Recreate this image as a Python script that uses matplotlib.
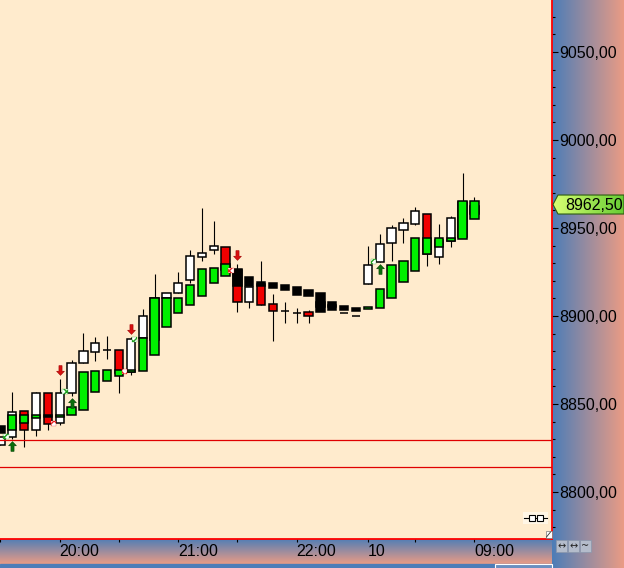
import numpy as np
import matplotlib.pyplot as plt
from matplotlib.path import Path
from matplotlib.patches import Polygon, Rectangle
from matplotlib.ticker import MultipleLocator, FuncFormatter

plt.rcParams['font.family'] = ['Liberation Sans', 'DejaVu Sans']

# price candles (white = up, red = down), one per bar
a_open = [8826.5, 8831, 8846, 8835.5, 8856, 8839, 8856, 8873.5, 8879.5, 8880.5,
          8880.5, 8868, 8887.5, 8886.5, 8910, 8913, 8920.5, 8933.5, 8937.5, 8939,
          8926, 8908, 8918, 8907, 8903, 8901.5, 8902.5, 8905, 8906, 8901.5,
          8900, 8918, 8930.5, 8941.5, 8949, 8952.5, 8958, 8933.5, 8942.5, 8945,
          8958]
a_high = [8831, 8857, 8846, 8857, 8856, 8864, 8875, 8890.5, 8888, 8888.5,
          8880.5, 8888, 8904, 8924, 8913, 8925, 8937.5, 8961.5, 8954, 8939,
          8929.5, 8916.5, 8931, 8912.5, 8908, 8904.5, 8903.5, 8908, 8906, 8901.5,
          8900, 8940, 8946.5, 8951.5, 8955.5, 8962, 8958, 8952.5, 8957, 8981,
          8967.5]
a_low = [8826.5, 8830, 8825.5, 8832, 8835, 8838, 8854.5, 8873.5, 8874.5, 8875.5,
         8856.5, 8866.5, 8887.5, 8886.5, 8910, 8913, 8918.5, 8931, 8935, 8926,
         8902.5, 8904.5, 8906.5, 8886, 8896, 8896, 8896, 8905, 8905, 8901.5,
         8900, 8918, 8930.5, 8931.5, 8941.5, 8951.5, 8928.5, 8929.5, 8939, 8945,
         8958]
a_close = [8831, 8845.5, 8835.5, 8856, 8838.5, 8856.5, 8873.5, 8880, 8884.5, 8880.5,
           8867.5, 8887, 8900, 8910, 8913, 8919, 8934, 8936, 8940, 8926,
           8908, 8916.5, 8906.5, 8903, 8903, 8901.5, 8900, 8908, 8905, 8901.5,
           8900, 8929, 8941, 8950, 8953, 8959.5, 8935, 8943, 8955.5, 8965,
           8962.5]

# overlay bodies (green = up, black = down)
b_open = [8837.5, 8835.5, 8839.5, 8842, 8843.5, 8842.5, 8843.5, 8846.5, 8857, 8863,
          8866, 8868, 8868.5, 8878, 8894, 8902, 8906, 8911.5, 8919, 8923,
          8926.5, 8922, 8919.5, 8918.5, 8917.5, 8916.5, 8915, 8913, 8908, 8905.5,
          8904.5, 8904, 8904.5, 8910, 8919.5, 8925.5, 8935, 8939.5, 8942.5, 8943.5,
          8955]
b_close = [8833.5, 8843.5, 8843.5, 8843.5, 8842.5, 8844, 8848.5, 8868, 8869, 8869.5,
           8869.5, 8869.5, 8887.5, 8910.5, 8910, 8910, 8917.5, 8926.5, 8927.5, 8929.5,
           8917, 8917, 8917, 8916, 8915, 8912, 8911.5, 8902.5, 8903.5, 8903.5,
           8903, 8905, 8915.5, 8929, 8931, 8944.5, 8944.5, 8944.5, 8944.5, 8965.5,
           8965.5]

sell_bars = [5, 11, 20]
sell_prices = [8869.5, 8892.5, 8934.5]
buy_bars = [1, 6, 32]
buy_prices = [8826, 8850.5, 8926.5]
green_mark_x = [0.47, 5.45, 11.33, 31.5]
green_mark_y = [8831.5, 8857, 8886.5, 8931]
red_mark_x = [4.5, 10.45, 19.45]
red_mark_y = [8839, 8868.5, 8926]
levels = [8829.5, 8814]
last_price = 8962.5

tick_bars = [0, 5, 10, 15, 20, 25, 31, 35, 40]
tick_labels = ['', '20:00', '', '21:00', '', '22:00', '10', '', '09:00']

W, H = 624, 568
plot_right, plot_bottom = 552, 538.5
y_top, y_bot = 9079.55, 8773.6

fig = plt.figure(figsize=(W / 100, H / 100), dpi=100)

# gradient panels behind everything
bg = fig.add_axes([0, 0, 1, 1], zorder=0)
blue = np.array([0.30, 0.49, 0.72])
salmon = np.array([0.92, 0.61, 0.52])
t = np.linspace(0, 1, 256)
grad = blue[None, :] * (1 - t[:, None]) + salmon[None, :] * t[:, None]
bg.imshow(grad[None, :, :], extent=(plot_right, W, H, 0), aspect='auto')
bg.imshow(grad[:, None, :], extent=(0, plot_right, 564, plot_bottom), aspect='auto')
bg.add_patch(Rectangle((0, 564), plot_right, 4, color=blue))
bg.set_xlim(0, W)
bg.set_ylim(H, 0)
bg.axis('off')

# main chart
ax = fig.add_axes([0, (H - plot_bottom) / H, plot_right / W, plot_bottom / H], zorder=1)
ax.set_facecolor('#ffebcd')

x = np.arange(len(a_open))
a_o, a_c = np.array(a_open), np.array(a_close)
b_o, b_c = np.array(b_open), np.array(b_close)

ax.vlines(x, a_low, a_high, color='black', lw=0.8, zorder=2)
ax.bar(x, np.abs(a_c - a_o), bottom=np.minimum(a_o, a_c), width=0.7,
       color=np.where(a_c >= a_o, 'white', '#f00000'), edgecolor='black',
       linewidth=1.1, zorder=3)
ax.bar(x, np.abs(b_c - b_o), bottom=np.minimum(b_o, b_c), width=0.7,
       color=np.where(b_c >= b_o, '#00f000', 'black'), edgecolor='black',
       linewidth=1.1, zorder=4)

for lv in levels:
    ax.axhline(lv, color='#e00000', lw=0.9, zorder=5)

up_arrow = Path([(0, 1), (0.8, 0.15), (0.32, 0.15), (0.32, -1), (-0.32, -1),
                 (-0.32, 0.15), (-0.8, 0.15), (0, 1)], closed=True)
down_arrow = Path(np.array(up_arrow.vertices) * [1, -1], closed=True)
ax.plot(sell_bars, sell_prices, ls='none', marker=down_arrow, ms=7,
        color='#d81010', mec='#a00000', mew=0.4, zorder=6)
ax.plot(buy_bars, buy_prices, ls='none', marker=up_arrow, ms=7,
        color='#0b6e0b', mec='#044004', mew=0.4, zorder=6)

ax.scatter(green_mark_x, green_mark_y, marker='s', s=14, facecolor='white',
           edgecolor='#1fa01f', hatch='xxxx', linewidths=0.2, zorder=6)
ax.scatter(red_mark_x, red_mark_y, marker='s', s=14, facecolor='white',
           edgecolor='#e82020', hatch='xxxx', linewidths=0.2, zorder=6)

ax.set_xlim(-0.04, 46.54)
ax.set_ylim(y_bot, y_top)

ax.set_xticks(tick_bars)
ax.set_xticklabels(tick_labels)
for lbl in ax.get_xticklabels():
    lbl.set_ha('left')
ax.tick_params(axis='x', direction='out', length=2.5, width=0.8, pad=1.8,
               labelsize=11.5, colors='black')

ax.yaxis.tick_right()
ax.set_yticks(np.arange(8800, 9051, 50))
ax.yaxis.set_minor_locator(MultipleLocator(10))
ax.yaxis.set_major_formatter(FuncFormatter(lambda v, _: f'{v:.2f}'.replace('.', ',')))
ax.tick_params(axis='y', which='major', direction='out', length=4, width=0.8,
               pad=1.5, labelsize=11.5, colors='black')
ax.tick_params(axis='y', which='minor', direction='out', length=2, width=0.8,
               colors='black')

for side in ['top', 'left']:
    ax.spines[side].set_visible(False)
for side in ['right', 'bottom']:
    ax.spines[side].set_color('#ff0000')
    ax.spines[side].set_linewidth(1.3)

# overlay: last price tag and small widgets
top = fig.add_axes([0, 0, 1, 1], zorder=3)
top.patch.set_alpha(0)
top.set_xlim(0, W)
top.set_ylim(H, 0)
top.axis('off')

yc = (y_top - last_price) / (y_top - y_bot) * plot_bottom - 1.5
tag = Polygon([(553, yc), (558, yc - 9.5), (W, yc - 9.5), (W, yc + 9.5), (558, yc + 9.5)],
              closed=True, facecolor='none', edgecolor='#2d5a12', lw=0.8, zorder=4)
top.add_patch(tag)
g1, g2 = np.array([0.85, 1.0, 0.45]), np.array([0.40, 0.80, 0.20])
tag_grad = g1[None, :] * (1 - t[:, None]) + g2[None, :] * t[:, None]
im = top.imshow(tag_grad[None, :, :], extent=(553, W, yc + 9.5, yc - 9.5),
                aspect='auto', zorder=3)
im.set_clip_path(tag)
top.text(565, yc + 0.5, f'{last_price:.2f}'.replace('.', ','), fontsize=11.5,
         va='center', ha='left', color='black', zorder=5)

# buttons under the price scale
for bx, glyph in zip([556, 568, 580], ['↔', '↔', '~']):
    top.add_patch(Rectangle((bx, 540), 11, 12, facecolor='#b4bccb',
                            edgecolor='#8a96ab', lw=0.5))
    top.text(bx + 5.5, 546, glyph, fontsize=7, ha='center', va='center',
             family='DejaVu Sans', color='#222222')

# small widgets in the plot corner
top.add_patch(Rectangle((523, 512), 25, 12, facecolor='#fff6e6', edgecolor='none'))
top.plot([524, 547], [518, 518], color='black', lw=0.8)
top.plot([532, 540], [518, 518], ls='none', marker='s', ms=4.5, mfc='white',
         mec='black', mew=0.8)
top.add_patch(Rectangle((545.5, 531), 6, 6.5, facecolor='white', edgecolor='#777777', lw=0.5))
top.plot([546.5, 550.5], [537, 532], color='#333333', lw=0.6)
top.add_patch(Rectangle((495, 563.5), 57, 5, facecolor='#6a8fc0', edgecolor='white', lw=0.8))

fig.savefig('out.png', dpi=100)
